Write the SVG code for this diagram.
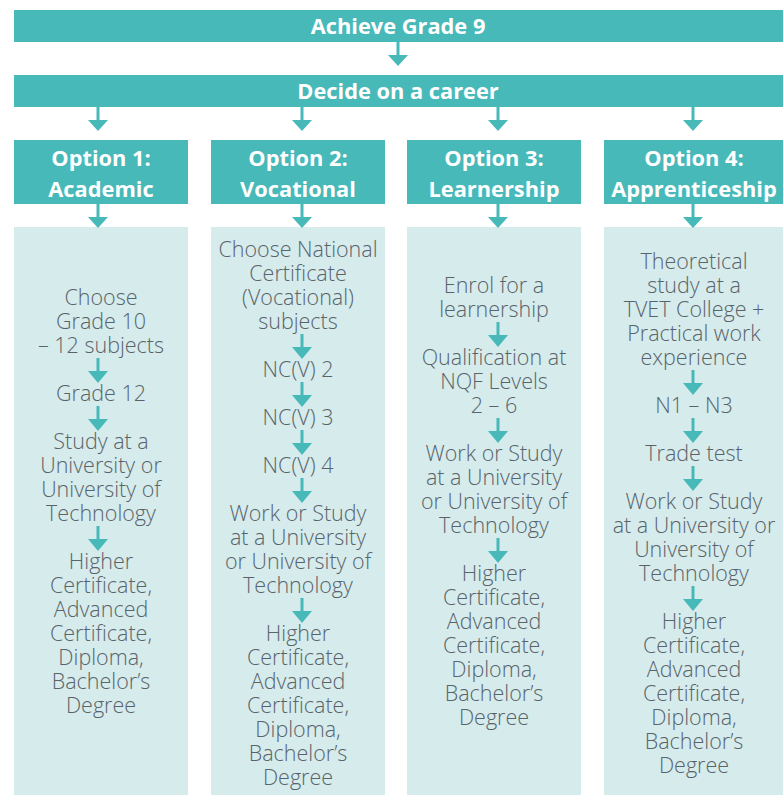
<svg xmlns="http://www.w3.org/2000/svg" width="783" height="795" viewBox="0 0 783 795">
  <style>
    .bar { fill: #48b9b9; }
    .panel { fill: #d5ebec; }
    .head { font-family: "Open Sans", "Liberation Sans", sans-serif; font-weight: 700; font-size: 21.8px; fill: #ffffff; text-anchor: middle; }
    .body { font-family: "Open Sans", "Liberation Sans", sans-serif; font-weight: 300; font-size: 21.5px; fill: #59636a; text-anchor: middle; }
    .arrow { fill: #48b9b9; }
  </style>
  <defs>
    <!-- large arrow between bars: shaft 13px, head 11px -->
    <path id="bigArrow" d="M-1.5 0 H1.5 V13 H10 L0 24 L-10 13 H-1.5 Z"/>
    <!-- small arrow inside the panels -->
    <path id="smallArrow" d="M-1.5 0 H1.5 V13 H10 L0 25 L-10 13 H-1.5 Z"/>
  </defs>

  <rect width="783" height="795" fill="#ffffff"/>

  <g id="achieve-grade-9">
    <rect class="bar" x="14" y="10" width="769" height="32"/>
    <text class="head" x="398" y="34">Achieve Grade 9</text>
  </g>

  <g id="decide-career">
    <rect class="bar" x="14" y="75" width="769" height="32"/>
    <text class="head" x="398" y="99">Decide on a career</text>
  </g>

  <g id="option-1">
    <rect class="bar" x="14" y="140" width="174" height="64"/>
    <text class="head" x="101" y="166">Option 1:</text>
    <text class="head" x="101" y="197">Academic</text>
  </g>
  <g id="option-2">
    <rect class="bar" x="211" y="140" width="174" height="64"/>
    <text class="head" x="298" y="166">Option 2:</text>
    <text class="head" x="298" y="197">Vocational</text>
  </g>
  <g id="option-3">
    <rect class="bar" x="407" y="140" width="174" height="64"/>
    <text class="head" x="494" y="166">Option 3:</text>
    <text class="head" x="494" y="197">Learnership</text>
  </g>
  <g id="option-4">
    <rect class="bar" x="604" y="140" width="179" height="64"/>
    <text class="head" x="694" y="166">Option 4:</text>
    <text class="head" x="694" y="197">Apprenticeship</text>
  </g>

  <g id="path-academic">
    <rect class="panel" x="14" y="227" width="174" height="568"/>
    <g class="body">
      <text x="101" y="305">Choose</text>
      <text x="101" y="329">Grade 10</text>
      <text x="101" y="353">– 12 subjects</text>
      <text x="101" y="401">Grade 12</text>
      <text x="101" y="449">Study at a</text>
      <text x="101" y="473">University or</text>
      <text x="101" y="497">University of</text>
      <text x="101" y="521">Technology</text>
      <text x="101" y="569">Higher</text>
      <text x="101" y="593">Certificate,</text>
      <text x="101" y="617">Advanced</text>
      <text x="101" y="641">Certificate,</text>
      <text x="101" y="665">Diploma,</text>
      <text x="101" y="689">Bachelor’s</text>
      <text x="101" y="713">Degree</text>
    </g>
  </g>

  <g id="path-vocational">
    <rect class="panel" x="211" y="227" width="174" height="568"/>
    <g class="body">
      <text x="298" y="257">Choose National</text>
      <text x="298" y="281">Certificate</text>
      <text x="298" y="305">(Vocational)</text>
      <text x="298" y="329">subjects</text>
      <text x="298" y="377">NC(V) 2</text>
      <text x="298" y="425">NC(V) 3</text>
      <text x="298" y="473">NC(V) 4</text>
      <text x="298" y="521">Work or Study</text>
      <text x="298" y="545">at a University</text>
      <text x="298" y="569">or University of</text>
      <text x="298" y="593">Technology</text>
      <text x="298" y="641">Higher</text>
      <text x="298" y="665">Certificate,</text>
      <text x="298" y="689">Advanced</text>
      <text x="298" y="713">Certificate,</text>
      <text x="298" y="737">Diploma,</text>
      <text x="298" y="761">Bachelor’s</text>
      <text x="298" y="785">Degree</text>
    </g>
  </g>

  <g id="path-learnership">
    <rect class="panel" x="407" y="227" width="174" height="568"/>
    <g class="body">
      <text x="494" y="293">Enrol for a</text>
      <text x="494" y="317">learnership</text>
      <text x="494" y="365">Qualification at</text>
      <text x="494" y="389">NQF Levels</text>
      <text x="494" y="413">2 – 6</text>
      <text x="494" y="461">Work or Study</text>
      <text x="494" y="485">at a University</text>
      <text x="494" y="509">or University of</text>
      <text x="494" y="533">Technology</text>
      <text x="494" y="581">Higher</text>
      <text x="494" y="605">Certificate,</text>
      <text x="494" y="629">Advanced</text>
      <text x="494" y="653">Certificate,</text>
      <text x="494" y="677">Diploma,</text>
      <text x="494" y="701">Bachelor’s</text>
      <text x="494" y="725">Degree</text>
    </g>
  </g>

  <g id="path-apprenticeship">
    <rect class="panel" x="604" y="227" width="179" height="568"/>
    <g class="body">
      <text x="694" y="269">Theoretical</text>
      <text x="694" y="293">study at a</text>
      <text x="694" y="317">TVET College +</text>
      <text x="694" y="341">Practical work</text>
      <text x="694" y="365">experience</text>
      <text x="694" y="413">N1 – N3</text>
      <text x="694" y="461">Trade test</text>
      <text x="694" y="509">Work or Study</text>
      <text x="694" y="533">at a University or</text>
      <text x="694" y="557">University of</text>
      <text x="694" y="581">Technology</text>
      <text x="694" y="629">Higher</text>
      <text x="694" y="653">Certificate,</text>
      <text x="694" y="677">Advanced</text>
      <text x="694" y="701">Certificate,</text>
      <text x="694" y="725">Diploma,</text>
      <text x="694" y="749">Bachelor’s</text>
      <text x="694" y="773">Degree</text>
    </g>
  </g>

  <g id="connectors" class="arrow">
    <!-- top bars -->
    <use href="#bigArrow" x="398" y="42"/>
    <use href="#bigArrow" x="98" y="107"/>
    <use href="#bigArrow" x="302" y="107"/>
    <use href="#bigArrow" x="498" y="107"/>
    <use href="#bigArrow" x="693" y="107"/>
    <!-- option headers to panels -->
    <use href="#bigArrow" x="98" y="204"/>
    <use href="#bigArrow" x="302" y="204"/>
    <use href="#bigArrow" x="498" y="204"/>
    <use href="#bigArrow" x="693" y="204"/>
    <!-- academic steps -->
    <use href="#smallArrow" x="98" y="358"/>
    <use href="#smallArrow" x="98" y="406"/>
    <use href="#smallArrow" x="98" y="526"/>
    <!-- vocational steps -->
    <use href="#smallArrow" x="302" y="334"/>
    <use href="#smallArrow" x="302" y="382"/>
    <use href="#smallArrow" x="302" y="430"/>
    <use href="#smallArrow" x="302" y="478"/>
    <use href="#smallArrow" x="302" y="598"/>
    <!-- learnership steps -->
    <use href="#smallArrow" x="498" y="322"/>
    <use href="#smallArrow" x="498" y="418"/>
    <use href="#smallArrow" x="498" y="538"/>
    <!-- apprenticeship steps -->
    <use href="#smallArrow" x="693" y="370"/>
    <use href="#smallArrow" x="693" y="418"/>
    <use href="#smallArrow" x="693" y="466"/>
    <use href="#smallArrow" x="693" y="586"/>
  </g>
</svg>
